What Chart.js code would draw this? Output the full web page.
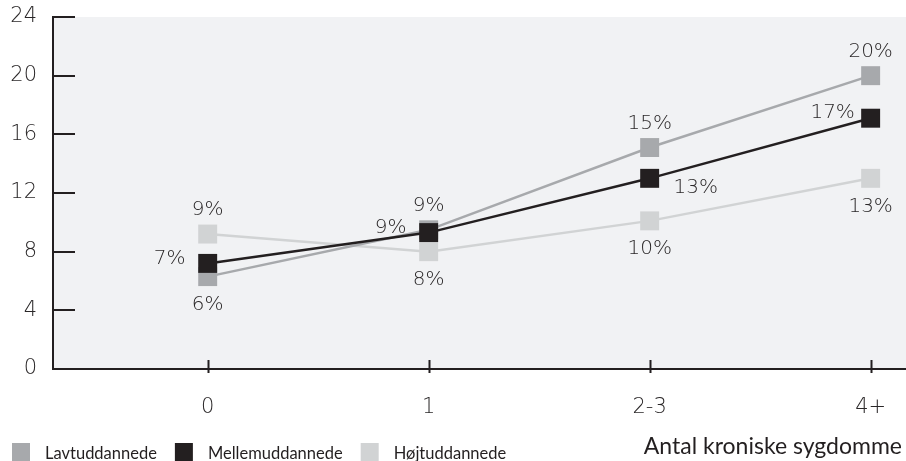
<!DOCTYPE html>
<html>
<head>
<meta charset="utf-8">
<script src="https://cdn.jsdelivr.net/npm/chart.js@4.4.1/dist/chart.umd.min.js"></script>
<style>
  html, body { margin: 0; padding: 0; background: #ffffff; }
  canvas { display: block; }
</style>
</head>
<body>
<canvas id="chart" width="906" height="461"></canvas>
<script>
// Andel (%) efter antal kroniske sygdomme og uddannelsesniveau
const categories = ['0', '1', '2-3', '4+'];
const lavtuddannede = [6.3, 9.49, 15.1, 20.0];
const mellemuddannede = [7.2, 9.3, 13.0, 17.1];
const hoejtuddannede = [9.2, 8.0, 10.1, 13.0];
const yTickValues = [0, 4, 8, 12, 16, 20, 24];
const seriesNames = ['Lavtuddannede', 'Mellemuddannede', 'Højtuddannede'];
const axisTitle = 'Antal kroniske sygdomme';

const INK = '#231f20';
const NUM_FONT = '"DejaVu Sans", sans-serif';
const TEXT_FONT = 'Lato, "Liberation Sans", sans-serif';

const toPoints = vals => vals.map((v, i) => ({ x: i, y: v }));

function series(label, values, color, order, labelAt) {
  return {
    label,
    data: toPoints(values),
    borderColor: color,
    backgroundColor: color,
    borderWidth: 2.5,
    pointStyle: 'rect',
    pointRadius: 13.4,
    pointHoverRadius: 13.4,
    pointBorderWidth: 0,
    pointBackgroundColor: color,
    tension: 0,
    order,
    labelAt
  };
}

// keep the plot area fixed: no extra room reserved for edge labels
function fixScaleBox(size) {
  return s => {
    if (s.isHorizontal()) s.height = size; else s.width = size;
    s.paddingTop = s.paddingBottom = s.paddingLeft = s.paddingRight = 0;
  };
}

// plot background
const plotBackground = {
  id: 'plotBackground',
  beforeDraw(chart) {
    const { ctx, chartArea: a } = chart;
    ctx.save();
    ctx.fillStyle = '#f1f2f4';
    ctx.fillRect(a.left, a.top, a.right - a.left, a.bottom - a.top);
    ctx.restore();
  }
};

// inward tick marks on both axes
const tickMarks = {
  id: 'tickMarks',
  afterDraw(chart) {
    const { ctx, chartArea: a, scales } = chart;
    ctx.save();
    ctx.strokeStyle = INK;
    ctx.lineWidth = 2;
    ctx.beginPath();
    yTickValues.forEach(v => {
      const y = Math.round(scales.y.getPixelForValue(v));
      ctx.moveTo(a.left, y);
      ctx.lineTo(a.left + 22, y);
    });
    categories.forEach((c, i) => {
      const x = Math.round(scales.x.getPixelForValue(i)) + 0.5;
      ctx.moveTo(x, a.bottom - 9);
      ctx.lineTo(x, a.bottom + 4);
    });
    ctx.stroke();
    ctx.restore();
  }
};

// percentage labels next to each marker
const LABEL_OFFSETS = {
  above: [0, -24],
  below: [0, 28],
  left: [-38, -5],
  right: [46, 9]
};
const valueLabels = {
  id: 'valueLabels',
  afterDatasetsDraw(chart) {
    const { ctx } = chart;
    ctx.save();
    ctx.font = '200 20px ' + NUM_FONT;
    ctx.fillStyle = '#2a2728';
    ctx.textAlign = 'center';
    ctx.textBaseline = 'middle';
    chart.data.datasets.forEach((ds, di) => {
      const meta = chart.getDatasetMeta(di);
      meta.data.forEach((pt, i) => {
        const off = LABEL_OFFSETS[ds.labelAt[i]];
        const text = Math.round(ds.data[i].y) + '%';
        ctx.fillText(text, pt.x + off[0], pt.y + off[1]);
      });
    });
    ctx.restore();
  }
};

// legend and axis title along the bottom edge
const bottomTexts = {
  id: 'bottomTexts',
  afterDraw(chart) {
    const { ctx } = chart;
    ctx.save();
    ctx.font = '16.5px ' + TEXT_FONT;
    ctx.textBaseline = 'alphabetic';
    ctx.textAlign = 'left';
    let x = 12;
    chart.data.datasets.forEach(ds => {
      ctx.fillStyle = ds.backgroundColor;
      ctx.fillRect(x, 443, 18, 18);
      x += 18 + 15;
      ctx.fillStyle = INK;
      ctx.fillText(ds.label, x, 459);
      x += ctx.measureText(ds.label).width + 18;
    });
    ctx.font = '23px ' + TEXT_FONT;
    ctx.textAlign = 'right';
    ctx.fillStyle = INK;
    ctx.fillText(axisTitle, 902, 454);
    ctx.restore();
  }
};

new Chart(document.getElementById('chart'), {
  type: 'line',
  data: {
    datasets: [
      series(seriesNames[0], lavtuddannede, '#a7a9ac', 1, ['below', 'above', 'above', 'above']),
      series(seriesNames[1], mellemuddannede, INK, 0, ['left', 'left', 'right', 'left']),
      series(seriesNames[2], hoejtuddannede, '#d1d3d4', 2, ['above', 'below', 'below', 'below'])
    ]
  },
  options: {
    responsive: false,
    animation: false,
    events: [],
    layout: { autoPadding: false, padding: { top: 17, right: 0, left: 0, bottom: 0 } },
    plugins: {
      legend: { display: false },
      tooltip: { enabled: false }
    },
    scales: {
      x: {
        type: 'linear',
        min: -0.70,
        max: 3.16,
        afterBuildTicks: s => { s.ticks = categories.map((c, i) => ({ value: i })); },
        afterFit: fixScaleBox(92),
        grid: { display: false, drawTicks: false },
        border: { display: true, color: INK, width: 2 },
        ticks: {
          callback: v => categories[v],
          padding: 26,
          color: '#2a2728',
          font: { family: NUM_FONT, size: 21, weight: 200 },
          maxRotation: 0
        }
      },
      y: {
        min: 0,
        max: 24,
        afterBuildTicks: s => { s.ticks = yTickValues.map(v => ({ value: v })); },
        afterFit: fixScaleBox(53),
        grid: { display: false, drawTicks: false },
        border: { display: true, color: INK, width: 2 },
        ticks: {
          padding: 16,
          color: '#2a2728',
          font: { family: NUM_FONT, size: 21, weight: 200 }
        }
      }
    }
  },
  plugins: [plotBackground, tickMarks, valueLabels, bottomTexts]
});
</script>
</body>
</html>
